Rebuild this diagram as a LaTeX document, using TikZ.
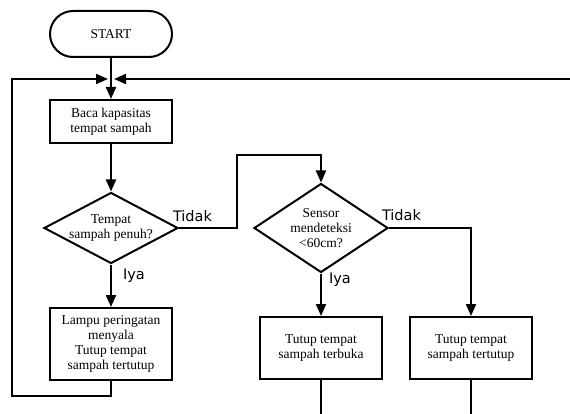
\documentclass[tikz,border=0pt]{standalone}
\usepackage{fontspec}
\setmainfont{Liberation Serif}
\newfontfamily\lblfont{DejaVu Sans}
\usetikzlibrary{arrows.meta,shapes.geometric}
\begin{document}
\begin{tikzpicture}[x=1pt,y=-1pt,
  line width=2pt,
  arr/.style={-{Triangle[length=12pt,width=10pt]}},
  txt/.style={font=\fontsize{13.5}{15}\selectfont,align=center},
  proc/.style={draw,rectangle,txt,inner sep=1pt},
  term/.style={draw,rectangle,rounded corners=23pt,txt,minimum width=122pt,minimum height=46pt},
  dec/.style={draw,diamond,inner sep=0pt},
  dectext/.style={txt,inner sep=0pt},
  lbl/.style={font=\lblfont\fontsize{14.5}{15}\selectfont,inner sep=0pt,anchor=base west}
]
\useasboundingbox (0,0) rectangle (570,414);

\node[term] (start) at (111,34) {START};
\node[proc,minimum width=122pt,minimum height=43pt] (read) at (111,121.5) {Baca kapasitas\\tempat sampah};
\node[dec,minimum width=134pt,minimum height=71pt,label={[dectext]center:Tempat\\sampah penuh?}] (d1) at (111,228) {};
\node[proc,minimum width=122pt,minimum height=72pt] (lamp) at (111,344) {Lampu peringatan\\menyala\\Tutup tempat\\sampah tertutup};
\node[dec,minimum width=134pt,minimum height=89pt,label={[dectext]center:Sensor\\mendeteksi\\<60cm?}] (d2) at (321,228) {};
\node[proc,minimum width=122pt,minimum height=62pt] (open) at (321,348) {Tutup tempat\\sampah terbuka};
\node[proc,minimum width=122pt,minimum height=62pt] (close) at (471,348) {Tutup tempat\\sampah tertutup};

\coordinate (j) at (111,79);
\coordinate (lb) at (12,396);
\coordinate (lt) at (12,79);
\coordinate (rr) at (570,79);
\coordinate (t1) at (237,155);
\coordinate (e1) at (321,414);
\coordinate (e2) at (471,414);

\draw (start.south) -- (j);
\draw[arr] (j) -- (read.north);
\draw[arr,shorten >=3pt] (lamp.south) |- (lb) -- (lt) -- (j);
\draw[arr,shorten >=3pt] (rr) -- (j);
\draw[arr] (read.south) -- (d1.north);
\draw[arr] (d1.south) -- (lamp.north);
\draw[arr] (d1.east) -| (t1) -| (d2.north);
\draw[arr] (d2.south) -- (open.north);
\draw[arr] (d2.east) -| (close.north);
\draw (open.south) -- (e1);
\draw (close.south) -- (e2);

\node[lbl] (l1) at (172,222) {Tidak};
\node[lbl] (l2) at (122,279) {Iya};
\node[lbl] (l3) at (381,220) {Tidak};
\node[lbl] (l4) at (328,283) {Iya};
\end{tikzpicture}
\end{document}
